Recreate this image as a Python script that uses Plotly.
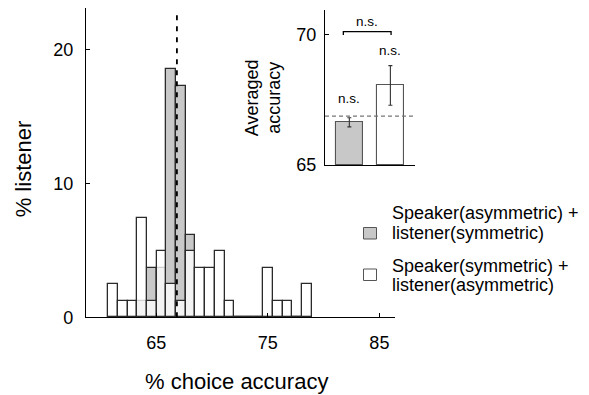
import plotly.graph_objects as go

W, H = 589, 395

# ---- data: histogram of % choice accuracy ----
bin_centers = [61.13, 62.00, 62.86, 63.73, 64.60, 65.47, 66.34, 67.21, 68.08, 68.95,
               69.82, 70.69, 71.55, 72.42, 73.29, 74.16, 75.03, 75.90, 76.77, 77.64, 78.51]
bin_width = 0.869
pct_gray = [0, 0, 0, 1.23, 3.70, 3.70, 18.52, 17.28, 6.17, 0,
            0, 0, 0, 0, 0, 0, 0, 0, 0, 0, 0]
pct_white = [2.47, 1.23, 1.23, 7.41, 1.23, 4.94, 2.47, 1.23, 4.94, 3.70,
             3.70, 4.94, 1.23, 0, 0, 0, 3.70, 1.23, 1.23, 0, 2.47]
mean_line = 66.85

# ---- inset data: averaged accuracy ----
inset_x = [1, 2]
inset_vals = [66.64, 68.06]
inset_err = [0.175, 0.76]
inset_colors = ["#c8c8c8", "#ffffff"]
inset_ref = 66.88

legend_labels = [["Speaker(asymmetric) +", "listener(symmetric)"],
                 ["Speaker(symmetric) +", "listener(asymmetric)"]]

FONT = "Liberation Sans, Arial, Helvetica, sans-serif"

def px(x):
    return x / W

def py(y):
    return 1 - y / H

fig = go.Figure()

fig.add_trace(go.Bar(x=bin_centers, y=pct_gray, width=bin_width,
                     marker=dict(color="#c8c8c8", line=dict(color="#2a2a2a", width=1.3)),
                     xaxis="x", yaxis="y", showlegend=False))
fig.add_trace(go.Bar(x=bin_centers, y=pct_white, width=bin_width,
                     marker=dict(color="rgba(255,255,255,0.78)", line=dict(color="#2a2a2a", width=1.3)),
                     xaxis="x", yaxis="y", showlegend=False))

fig.add_trace(go.Bar(x=inset_x, y=[v - 65 for v in inset_vals], base=65, width=0.66,
                     marker=dict(color=inset_colors, line=dict(color="#555555", width=1.1)),
                     error_y=dict(type="data", array=inset_err, color="#333333",
                                  thickness=1.1, width=2),
                     xaxis="x2", yaxis="y2", showlegend=False))

fig.update_layout(
    width=W, height=H, autosize=False,
    margin=dict(l=0, r=0, t=0, b=0, pad=0, autoexpand=False),
    paper_bgcolor="white", plot_bgcolor="rgba(0,0,0,0)",
    barmode="overlay", bargap=0,
    font=dict(family=FONT, size=18, color="black"),
    xaxis=dict(domain=[px(86), px(395)], range=[58.7, 86.4], automargin=False,
               tickvals=[65, 75, 85], ticks="inside", ticklen=4, tickwidth=1,
               tickcolor="black", showline=True, linecolor="black", linewidth=1.3,
               showgrid=False, zeroline=False, ticklabelstandoff=9,
               tickfont=dict(size=18), anchor="y"),
    yaxis=dict(domain=[py(317.3), py(8)], range=[0, 23.08], automargin=False,
               tickvals=[0, 10, 20], ticks="inside", ticklen=4, tickwidth=1,
               tickcolor="black", showline=True, linecolor="black", linewidth=1.3,
               showgrid=False, zeroline=False, ticklabelstandoff=8,
               tickfont=dict(size=18), anchor="x"),
    xaxis2=dict(domain=[px(325), px(415)], range=[0.407, 2.60], automargin=False,
                showticklabels=False, ticks="", showline=True, linecolor="black",
                linewidth=1.3, showgrid=False, zeroline=False, anchor="y2"),
    yaxis2=dict(domain=[py(165), py(10)], range=[65, 70.96], automargin=False,
                tickvals=[65, 70], ticks="inside", ticklen=4, tickwidth=1,
                tickcolor="black", showline=True, linecolor="black", linewidth=1.3,
                showgrid=False, zeroline=False, ticklabelstandoff=4,
                tickfont=dict(size=18), anchor="x2"),
)

shapes = []
# mean dashed line in main plot
shapes.append(dict(type="line", xref="x", yref="y", x0=mean_line, x1=mean_line,
                   y0=0, y1=22.8, line=dict(color="black", width=1.8, dash="5px,6px")))
# inset dashed reference
shapes.append(dict(type="line", xref="x2 domain", yref="y2", x0=0, x1=1,
                   y0=inset_ref, y1=inset_ref,
                   line=dict(color="#777777", width=1.2, dash="4px,3px")))
# bracket
shapes.append(dict(type="path", xref="x2", yref="y2",
                   path="M 0.854,70.0 L 0.854,70.13 L 2.017,70.13 L 2.017,70.0",
                   line=dict(color="black", width=1.3)))
# legend swatches
shapes.append(dict(type="rect", xref="paper", yref="paper",
                   x0=px(363.5), x1=px(376.5), y0=py(239), y1=py(227.5),
                   fillcolor="#c8c8c8", line=dict(color="#555555", width=1)))
shapes.append(dict(type="rect", xref="paper", yref="paper",
                   x0=px(363.5), x1=px(376.5), y0=py(280.5), y1=py(269),
                   fillcolor="white", line=dict(color="#555555", width=1)))
fig.update_layout(shapes=shapes)

ann = []
ann.append(dict(text="% listener", x=px(23.3), y=py(169), xref="paper", yref="paper",
                textangle=-90, showarrow=False, xanchor="center", yanchor="middle",
                font=dict(size=22)))
ann.append(dict(text="% choice accuracy", x=px(236.7), y=py(381.7), xref="paper",
                yref="paper", showarrow=False, xanchor="center", yanchor="middle",
                font=dict(size=22)))
ann.append(dict(text="Averaged", x=px(251.7), y=py(97.5), xref="paper", yref="paper",
                textangle=-90, showarrow=False, xanchor="center", yanchor="middle",
                font=dict(size=18)))
ann.append(dict(text="accuracy", x=px(273.3), y=py(97.5), xref="paper", yref="paper",
                textangle=-90, showarrow=False, xanchor="center", yanchor="middle",
                font=dict(size=18)))
for (tx, ty) in [("n.s.", (1.44, 70.51)), ("n.s.", (1.99, 69.40)), ("n.s.", (0.98, 67.57))]:
    ann.append(dict(text=tx, x=ty[0], y=ty[1], xref="x2", yref="y2", showarrow=False,
                    xanchor="center", yanchor="middle", font=dict(size=13.5)))
line_ys = [[213.3, 232.5], [265.7, 285.0]]
for lab, ys in zip(legend_labels, line_ys):
    for t, yy in zip(lab, ys):
        ann.append(dict(text=t, x=px(390), y=py(yy), xref="paper", yref="paper",
                        showarrow=False, xanchor="left", yanchor="middle",
                        font=dict(size=18)))
fig.update_layout(annotations=ann)

fig.write_html("out.html", config={"responsive": False})
